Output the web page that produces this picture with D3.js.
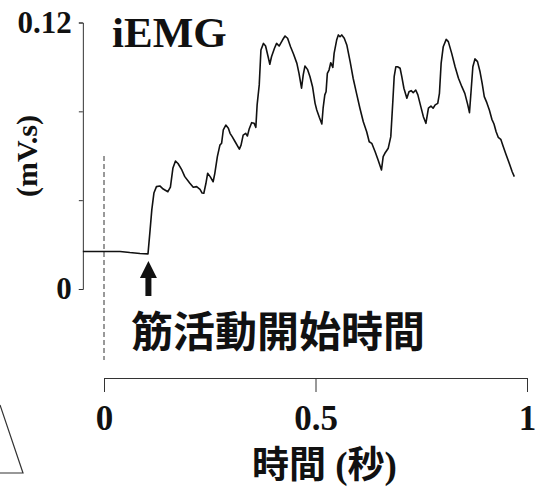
<!DOCTYPE html>
<html>
<head>
<meta charset="utf-8">
<script src="https://cdn.jsdelivr.net/npm/d3@7"></script>
<style>
  html, body { margin: 0; padding: 0; background: #fff; }
  svg { display: block; }
  .serif { font-family: "Liberation Serif", "Times New Roman", "Noto Sans CJK JP", serif; font-weight: bold; }
  .cjk { font-family: "Noto Sans CJK JP", sans-serif; font-weight: bold; }
</style>
</head>
<body>
<svg id="chart" width="539" height="487"></svg>
<script>
// iEMG trace: time (s) and integrated EMG (mV.s)
const times = [
  -0.050, 0.000, 0.038, 0.061, 0.085, 0.104, 0.109, 0.113, 0.118, 0.124,
  0.132, 0.140, 0.151, 0.157, 0.163, 0.169, 0.175, 0.184, 0.191, 0.203,
  0.211, 0.219, 0.227, 0.232, 0.236, 0.241, 0.245, 0.251, 0.258, 0.262,
  0.268, 0.274, 0.278, 0.282, 0.288, 0.294, 0.298, 0.303, 0.310, 0.320,
  0.324, 0.329, 0.335, 0.339, 0.343, 0.349, 0.355, 0.359, 0.362, 0.367,
  0.371, 0.377, 0.382, 0.388, 0.392, 0.396, 0.403, 0.408, 0.414, 0.422,
  0.428, 0.434, 0.441, 0.448, 0.456, 0.461, 0.467, 0.471, 0.475, 0.481,
  0.487, 0.493, 0.499, 0.503, 0.509, 0.515, 0.518, 0.522, 0.525, 0.528,
  0.532, 0.536, 0.541, 0.544, 0.550, 0.554, 0.558, 0.562, 0.568, 0.574,
  0.582, 0.589, 0.597, 0.605, 0.613, 0.621, 0.627, 0.633, 0.641, 0.648,
  0.656, 0.660, 0.664, 0.672, 0.678, 0.683, 0.686, 0.690, 0.694, 0.700,
  0.704, 0.709, 0.716, 0.721, 0.726, 0.731, 0.737, 0.742, 0.747, 0.755,
  0.761, 0.767, 0.773, 0.778, 0.783, 0.789, 0.793, 0.797, 0.802, 0.809,
  0.814, 0.822, 0.830, 0.838, 0.846, 0.853, 0.860, 0.864, 0.868, 0.872,
  0.877, 0.883, 0.889, 0.894, 0.899, 0.905, 0.911, 0.917, 0.922, 0.927,
  0.932, 0.938, 0.944, 0.950, 0.958, 0.965, 0.970
];
const iemg = [
  0.0169, 0.0169, 0.0169, 0.0164, 0.0160, 0.0158, 0.0266, 0.0356, 0.0432, 0.0461,
  0.0464, 0.0450, 0.0438, 0.0459, 0.0545, 0.0576, 0.0565, 0.0536, 0.0506, 0.0476,
  0.0458, 0.0461, 0.0449, 0.0432, 0.0431, 0.0476, 0.0521, 0.0506, 0.0483, 0.0521,
  0.0596, 0.0648, 0.0656, 0.0716, 0.0738, 0.0724, 0.0701, 0.0686, 0.0663, 0.0630,
  0.0648, 0.0693, 0.0701, 0.0689, 0.0719, 0.0749, 0.0746, 0.0728, 0.0829, 0.0919,
  0.1076, 0.1106, 0.1094, 0.1046, 0.1012, 0.1046, 0.1084, 0.1106, 0.1094, 0.1121,
  0.1139, 0.1129, 0.1091, 0.1058, 0.1016, 0.0971, 0.0904, 0.0964, 0.1004, 0.0989,
  0.0956, 0.0911, 0.0836, 0.0806, 0.0773, 0.0743, 0.0814, 0.0874, 0.0888, 0.0971,
  0.0986, 0.1019, 0.0998, 0.1061, 0.1121, 0.1144, 0.1136, 0.1144, 0.1129, 0.1099,
  0.1023, 0.0949, 0.0881, 0.0814, 0.0753, 0.0708, 0.0663, 0.0656, 0.0618, 0.0581,
  0.0536, 0.0596, 0.0611, 0.0634, 0.0686, 0.0851, 0.0956, 0.1001, 0.1001, 0.0994,
  0.0956, 0.0904, 0.0859, 0.0888, 0.0893, 0.0884, 0.0896, 0.0874, 0.0836, 0.0776,
  0.0746, 0.0814, 0.0824, 0.0814, 0.0829, 0.0836, 0.0881, 0.1016, 0.1091, 0.1124,
  0.1114, 0.1061, 0.1001, 0.0949, 0.0911, 0.0881, 0.0829, 0.0794, 0.0896, 0.1001,
  0.1036, 0.1024, 0.0978, 0.0926, 0.0866, 0.0839, 0.0806, 0.0764, 0.0743, 0.0708,
  0.0683, 0.0674, 0.0641, 0.0608, 0.0566, 0.0528, 0.0506
];

const xTickValues = [0, 0.5, 1];
const xTickLabels = ["0", "0.5", "1"];
const yTickValues = [0, 0.04, 0.08, 0.12];
const yTickLabels = ["0", "", "", "0.12"];

const onsetTime = 0.105;       // muscle activity onset
const traceStart = -0.05;      // recording starts before t = 0

const svg = d3.select("#chart");
const ink = "#111";

const x = d3.scaleLinear().domain([0, 1]).range([104, 527]);
const y = d3.scaleLinear().domain([0, 0.12]).range([289, 22.5]);

const yAxisX = x(traceStart);

// y axis
const yAxis = d3.axisLeft(y)
  .tickValues(yTickValues)
  .tickFormat((d, i) => yTickLabels[i])
  .tickSize(4)
  .tickSizeOuter(4)
  .tickPadding(7);
const gy = svg.append("g")
  .attr("transform", `translate(${yAxisX},0)`)
  .call(yAxis);
gy.selectAll("path, line").attr("stroke", "#333").attr("stroke-width", 1);
gy.selectAll("text")
  .attr("class", "serif")
  .attr("font-size", 31)
  .attr("fill", ink);

// x axis (drawn from 0 to 1 s)
const xAxis = d3.axisBottom(x)
  .tickValues(xTickValues)
  .tickFormat((d, i) => xTickLabels[i])
  .tickSize(14)
  .tickSizeOuter(14)
  .tickPadding(13);
const gx = svg.append("g")
  .attr("transform", "translate(0,378)")
  .call(xAxis);
gx.selectAll("path, line").attr("stroke", "#333").attr("stroke-width", 1);
gx.selectAll("text")
  .attr("class", "serif")
  .attr("font-size", 35)
  .attr("fill", ink);

// dashed marker at t = 0
svg.append("line")
  .attr("x1", x(0)).attr("x2", x(0))
  .attr("y1", 156).attr("y2", 360)
  .attr("stroke", "#333")
  .attr("stroke-width", 1)
  .attr("stroke-dasharray", "5,3");

// iEMG trace
const pts = times.map((t, i) => [t, iemg[i]]);
const line = d3.line().x(d => x(d[0])).y(d => y(d[1]));
svg.append("path")
  .datum(pts)
  .attr("d", line)
  .attr("fill", "none")
  .attr("stroke", ink)
  .attr("stroke-width", 1.6)
  .attr("stroke-linejoin", "round");

// onset arrow
const ax = x(onsetTime);
svg.append("path")
  .attr("d", `M${ax},261 L${ax + 8.5},278 L${ax + 3},278 L${ax + 3},296 L${ax - 3},296 L${ax - 3},278 L${ax - 8.5},278 Z`)
  .attr("fill", ink);

// titles and labels
svg.append("text")
  .attr("class", "serif")
  .attr("x", 112).attr("y", 47)
  .attr("font-size", 43)
  .attr("fill", ink)
  .text("iEMG");

svg.append("text")
  .attr("class", "serif")
  .attr("transform", "translate(37,156) rotate(-90)")
  .attr("text-anchor", "middle")
  .attr("font-size", 30)
  .attr("fill", ink)
  .text("(mV.s)");

svg.append("text")
  .attr("class", "cjk")
  .attr("x", 131).attr("y", 347)
  .attr("font-size", 42)
  .attr("fill", ink)
  .text("筋活動開始時間");

svg.append("text")
  .attr("class", "serif")
  .attr("x", 252).attr("y", 478)
  .attr("font-size", 37)
  .attr("fill", ink)
  .text("時間 (秒)");

// partial shape at lower left
svg.append("path")
  .attr("d", "M0,405 L23,473 L0,473")
  .attr("fill", "none")
  .attr("stroke", "#333")
  .attr("stroke-width", 1.2);
</script>
</body>
</html>
